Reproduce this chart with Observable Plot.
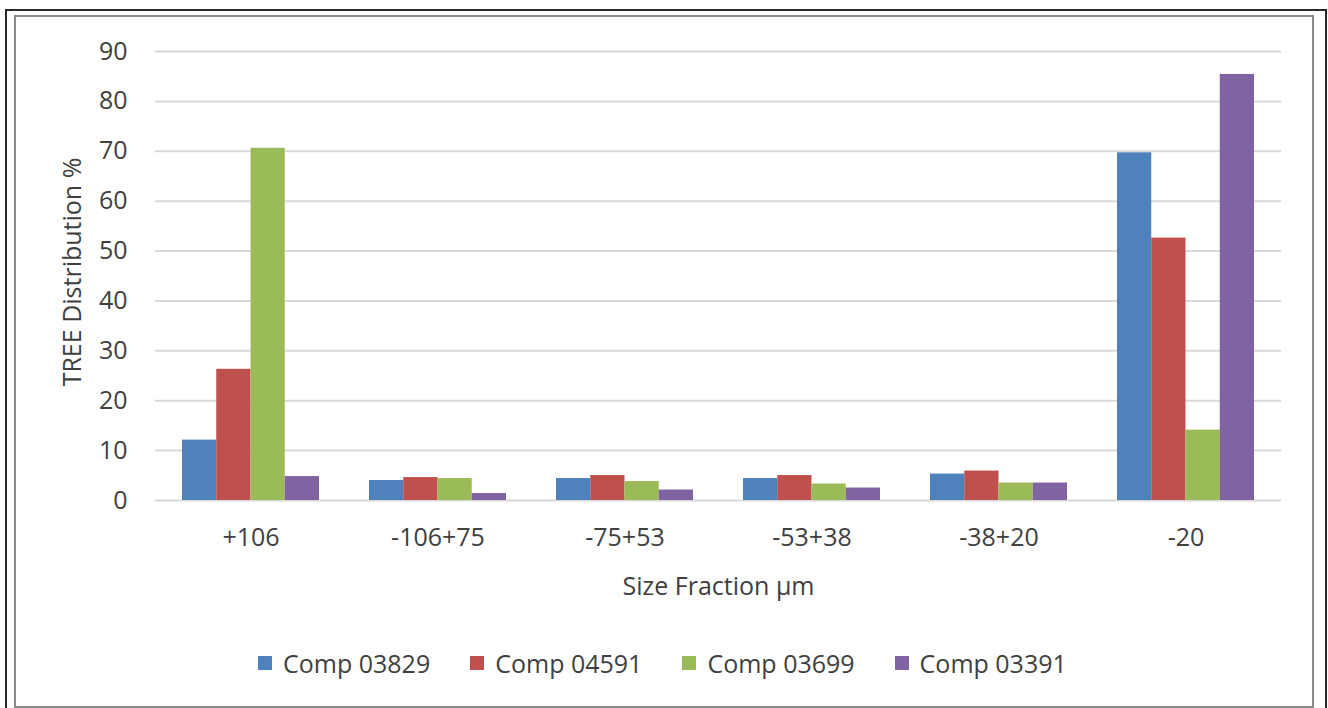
<!DOCTYPE html>
<html>
<head>
<meta charset="utf-8">
<script src="https://cdn.jsdelivr.net/npm/d3@7"></script>
<script src="https://cdn.jsdelivr.net/npm/@observablehq/plot@0.6"></script>
<style>
  html, body { margin: 0; padding: 0; background: #fff; overflow: hidden; width: 1328px; height: 708px; }
  #outer { position: absolute; left: 5px; top: 9px; right: 1px; bottom: -20px; border: 2px solid #2a2a2a; }
  #inner { position: absolute; left: 14px; top: 15px; right: 14px; bottom: 0px; border: 2px solid #8a8a8a; }
  #chart { position: absolute; left: 0; top: 0; }
  #legend { position: absolute; left: 258px; top: 649px; display: flex; font-family: 'Open Sans', sans-serif; font-size: 25px; color: #404040; line-height: 28px; }
  .item { display: flex; align-items: center; margin-right: 40px; }
  .sw { width: 14px; height: 14px; margin-right: 11px; }
</style>
</head>
<body>
<div id="outer"></div>
<div id="inner"></div>
<div id="chart"></div>
<div id="legend"></div>
<script>
const categories = ["+106", "-106+75", "-75+53", "-53+38", "-38+20", "-20"];
const series = ["Comp 03829", "Comp 04591", "Comp 03699", "Comp 03391"];
const comp03829 = [12.1, 4.0, 4.4, 4.4, 5.3, 69.7];
const comp04591 = [26.3, 4.6, 5.0, 5.0, 5.9, 52.6];
const comp03699 = [70.6, 4.4, 3.8, 3.3, 3.5, 14.1];
const comp03391 = [4.8, 1.4, 2.1, 2.5, 3.5, 85.4];
const colors = ["#4f81bd", "#c0504d", "#9bbb59", "#8064a2"];
const yTicks = [0, 10, 20, 30, 40, 50, 60, 70, 80, 90];
const xTitle = "Size Fraction µm";
const yTitle = "TREE Distribution %";

const values = [comp03829, comp04591, comp03699, comp03391];
const rows = [];
series.forEach((s, i) => categories.forEach((c, j) => rows.push({cat: c, series: s, value: values[i][j], idx: i})));

const W = 1328, H = 620;
const mL = 155, mR = 47, mT = 51, mB = 120;
const pInner = 0.27, pOuter = 0.135;
const step = (W - mL - mR) / (categories.length - pInner + 2 * pOuter);
const bw = step * (1 - pInner);
const sub = bw / series.length;

const barMarks = series.map((s, i) => Plot.barY(rows.filter(r => r.series === s), {
  x: "cat", y: "value", fill: colors[i],
  insetLeft: i * sub, insetRight: (series.length - 1 - i) * sub
}));

const plot = Plot.plot({
  width: W, height: H,
  marginLeft: mL, marginRight: mR, marginTop: mT, marginBottom: mB,
  style: {fontFamily: "'Open Sans', sans-serif", fontSize: "25px", color: "#404040", background: "transparent", overflow: "visible"},
  x: {domain: categories, paddingInner: pInner, paddingOuter: pOuter, label: null},
  y: {domain: [0, 90], label: null},
  marks: [
    Plot.ruleY(yTicks, {stroke: "#d9d9d9", strokeWidth: 2}),
    ...barMarks,
    Plot.axisY({ticks: yTicks, tickSize: 0, tickPadding: 28, label: null}),
    Plot.axisX({tickSize: 0, tickPadding: 28, label: null}),
    Plot.text([xTitle], {frameAnchor: "bottom", lineAnchor: "top", dy: 77, fill: "#404040"}),
    Plot.text([yTitle], {frameAnchor: "left", textAnchor: "middle", lineAnchor: "middle", rotate: -90, dx: -83, dy: -4, fill: "#404040"})
  ]
});
document.getElementById("chart").appendChild(plot);

const legend = document.getElementById("legend");
series.forEach((s, i) => {
  const item = document.createElement("div");
  item.className = "item";
  const sw = document.createElement("span");
  sw.className = "sw";
  sw.style.background = colors[i];
  const t = document.createElement("span");
  t.textContent = s;
  item.appendChild(sw); item.appendChild(t);
  legend.appendChild(item);
});
</script>
</body>
</html>
